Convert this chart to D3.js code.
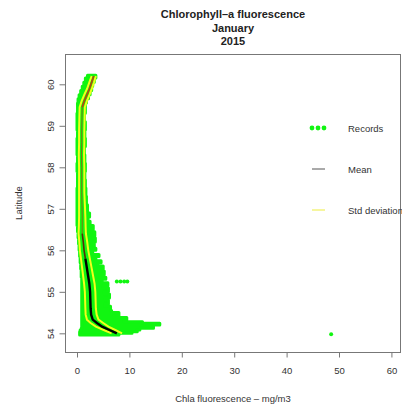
<!DOCTYPE html>
<html><head><meta charset="utf-8">
<script src="https://cdn.jsdelivr.net/npm/d3@7"></script>
<style>
body{margin:0;background:#fff;}
svg{display:block;font-family:"Liberation Sans",Arial,sans-serif;}
</style></head>
<body><svg id="c" width="402" height="409"></svg>
<script>
// ---- data ----
const titleLines = ["Chlorophyll\u2013a fluorescence", "January", "2015"];
const xTicks = [0, 10, 20, 30, 40, 50, 60];
const yTicks = [54, 55, 56, 57, 58, 59, 60];
const legendLabels = ["Records", "Mean", "Std deviation"];

// Records envelope (latitude, min chla, max chla)
const recLat = [60.22, 60.15, 60.05, 59.95, 59.85, 59.75, 59.65, 59.55, 59.45, 59.3, 59.1, 58.9, 58.7, 58.5, 58.3, 58.1, 57.9, 57.7, 57.5, 57.3, 57.1, 56.9, 56.8, 56.7, 56.6, 56.5, 56.45, 56.35, 56.3, 56.2, 56.15, 56.05, 56.0, 55.9, 55.85, 55.75, 55.7, 55.62, 55.55, 55.5, 55.42, 55.35, 55.3, 55.22, 55.15, 55.1, 55.0, 54.95, 54.85, 54.8, 54.7, 54.65, 54.55, 54.5, 54.42, 54.38, 54.32, 54.28, 54.24, 54.2, 54.16, 54.12, 54.08, 54.04, 54.0, 53.96];
const recMin = [2.5, 2.0, 1.6, 1.3, 1.0, 0.7, 0.4, 0.2, 0.1, 0.1, 0.0, 0.0, 0.1, 0.0, 0.0, 0.1, 0.0, 0.1, 0.1, 0.0, 0.0, 0.0, 0.0, 0.0, 0.0, 0.1, 0.1, 0.2, 0.2, 0.3, 0.3, 0.4, 0.4, 0.5, 0.5, 0.6, 0.6, 0.7, 0.7, 0.8, 0.8, 0.8, 0.9, 0.9, 0.9, 0.9, 0.9, 0.9, 0.9, 0.9, 0.9, 0.9, 0.9, 0.9, 0.9, 0.9, 0.9, 0.9, 0.9, 0.9, 0.9, 0.9, 0.8, 0.6, 0.5, 0.5];
const recMax = [3.5, 3.6, 3.3, 3.0, 2.8, 2.5, 2.2, 1.8, 1.6, 1.6, 1.4, 1.6, 1.5, 1.6, 1.4, 1.5, 1.6, 1.5, 1.6, 1.7, 1.8, 2.0, 2.4, 2.1, 2.5, 3.1, 2.7, 3.4, 3.0, 3.5, 2.9, 3.3, 3.6, 3.0, 4.2, 3.6, 4.6, 4.0, 5.0, 4.2, 5.2, 4.4, 5.5, 4.8, 5.9, 5.0, 6.0, 5.2, 6.2, 5.4, 6.0, 5.3, 6.4, 6.6, 8.0, 7.0, 9.5, 9.0, 12.5, 15.8, 13.0, 14.6, 12.0, 11.5, 10.5, 8.0];
// Isolated records
const outLat = [55.25, 55.25, 55.25, 55.25, 53.98];
const outChla = [7.6, 8.3, 9.0, 9.6, 48.5];

// Mean and standard deviation profile
const meanLat = [60.2, 60.05, 59.9, 59.75, 59.6, 59.45, 59.2, 58.9, 58.6, 58.3, 58.0, 57.7, 57.4, 57.1, 56.8, 56.55, 56.4, 56.2, 56.0, 55.8, 55.6, 55.4, 55.2, 55.0, 54.8, 54.6, 54.45, 54.33, 54.25, 54.16, 54.08, 54.0];
const meanChla = [3.2, 2.8, 2.4, 1.9, 1.4, 1.0, 0.95, 0.9, 0.9, 0.85, 0.9, 0.9, 0.9, 0.95, 1.0, 1.0, 1.0, 1.2, 1.35, 1.6, 1.85, 2.1, 2.35, 2.5, 2.55, 2.6, 2.7, 3.0, 3.8, 4.8, 6.2, 7.6];
const sdChla = [0.4, 0.45, 0.45, 0.5, 0.5, 0.5, 0.5, 0.5, 0.5, 0.5, 0.5, 0.5, 0.5, 0.55, 0.6, 0.65, 0.7, 0.75, 0.8, 0.85, 0.9, 0.95, 1.0, 1.0, 1.0, 1.0, 1.05, 1.1, 1.2, 1.2, 1.1, 1.0];

// ---- drawing ----
const svg = d3.select("#c");
const L = 65, R = 401, T = 54, B = 352;
const x = d3.scaleLinear().domain([-2.29, 61.83]).range([L, R]);
const y = d3.scaleLinear().domain([53.55, 60.73]).range([B, T]);

const clip = svg.append("clipPath").attr("id", "pc");
clip.append("rect").attr("x", L).attr("y", T).attr("width", R - L).attr("height", B - T);
const plot = svg.append("g").attr("clip-path", "url(#pc)");

const green = "#11f511";
const recs = recLat.map((d, i) => ({lat: d, lo: recMin[i], hi: recMax[i]}));
plot.append("path")
  .datum(recs)
  .attr("d", d3.area().y(d => y(d.lat)).x0(d => x(d.lo)).x1(d => x(d.hi)).curve(d3.curveStepAfter))
  .attr("fill", green).attr("stroke", green).attr("stroke-width", 3).attr("stroke-linejoin", "round");

plot.selectAll("circle.out")
  .data(outLat.map((d, i) => ({lat: d, v: outChla[i]})))
  .join("circle").attr("class", "out")
  .attr("cx", d => x(d.v)).attr("cy", d => y(d.lat)).attr("r", 2).attr("fill", green);

const prof = meanLat.map((d, i) => ({lat: d, m: meanChla[i], s: sdChla[i]}));
const ln = acc => d3.line().x(d => x(acc(d))).y(d => y(d.lat));
// std deviation lines
[d => d.m - d.s, d => d.m + d.s].forEach(f => {
  plot.append("path").datum(prof).attr("d", ln(f))
    .attr("fill", "none").attr("stroke", "#f2ff1a").attr("stroke-width", 2);
});
// mean line: upper, middle, lower parts
plot.append("path").datum(prof.slice(0, 6)).attr("d", ln(d => d.m))
  .attr("fill", "none").attr("stroke", "#b8400f").attr("stroke-width", 1.6);
plot.append("path").datum(prof.slice(5, 17)).attr("d", ln(d => d.m))
  .attr("fill", "none").attr("stroke", "#7a7a10").attr("stroke-width", 1);
plot.append("path").datum(prof.slice(16, 20)).attr("d", ln(d => d.m))
  .attr("fill", "none").attr("stroke", "#5a2a08").attr("stroke-width", 1.6);
plot.append("path").datum(prof.slice(19)).attr("d", ln(d => d.m))
  .attr("fill", "none").attr("stroke", "#000").attr("stroke-width", 2.4);

// box
svg.append("rect").attr("x", L + 0.5).attr("y", T + 0.5).attr("width", R - L - 1).attr("height", B - T)
  .attr("fill", "none").attr("stroke", "#777").attr("stroke-width", 1);

// axes
const xa = svg.append("g").attr("transform", `translate(0,${B + 0.5})`)
  .call(d3.axisBottom(x).tickValues(xTicks).tickSize(5).tickPadding(10).tickSizeOuter(0));
xa.select(".domain").remove();
xa.selectAll("line").attr("stroke", "#777");
xa.selectAll("text").attr("font-size", 9.5).attr("fill", "#333").attr("font-family", "Liberation Sans, Arial, sans-serif");

const ya = svg.append("g").attr("transform", `translate(${L + 0.5},0)`)
  .call(d3.axisLeft(y).tickValues(yTicks).tickSize(6).tickSizeOuter(0));
ya.select(".domain").remove();
ya.selectAll("line").attr("stroke", "#777");
ya.selectAll("text").attr("font-size", 9.5).attr("fill", "#333").attr("font-family", "Liberation Sans, Arial, sans-serif")
  .attr("transform", "rotate(-90)").attr("x", 0).attr("y", -11.5).attr("dy", 0).attr("text-anchor", "middle");

// titles
svg.append("g").selectAll("text").data(titleLines).join("text")
  .attr("x", (L + R) / 2).attr("y", (d, i) => 18 + i * 13.5)
  .attr("text-anchor", "middle").attr("font-size", 11).attr("font-weight", "bold").attr("fill", "#222")
  .text(d => d);

svg.append("text").attr("x", (L + R) / 2).attr("y", 402).attr("text-anchor", "middle")
  .attr("font-size", 9.5).attr("fill", "#333").text("Chla fluorescence \u2013 mg/m3");
svg.append("text").attr("transform", `translate(22,${(T + B) / 2}) rotate(-90)`).attr("text-anchor", "middle")
  .attr("font-size", 9.5).attr("fill", "#333").text("Latitude");

// legend
const lg = svg.append("g");
const ly = [128, 169, 210];
lg.selectAll("text").data(legendLabels).join("text")
  .attr("x", 348).attr("y", (d, i) => ly[i] + 3.5).attr("font-size", 9.5).attr("fill", "#333").text(d => d);
[312, 318, 324].forEach(cx => lg.append("circle").attr("cx", cx).attr("cy", ly[0]).attr("r", 2.4).attr("fill", green));
lg.append("line").attr("x1", 312).attr("x2", 325).attr("y1", ly[1]).attr("y2", ly[1]).attr("stroke", "#555").attr("stroke-width", 1);
lg.append("line").attr("x1", 312).attr("x2", 325).attr("y1", ly[2]).attr("y2", ly[2]).attr("stroke", "#f0f060").attr("stroke-width", 1.2);
</script></body></html>
